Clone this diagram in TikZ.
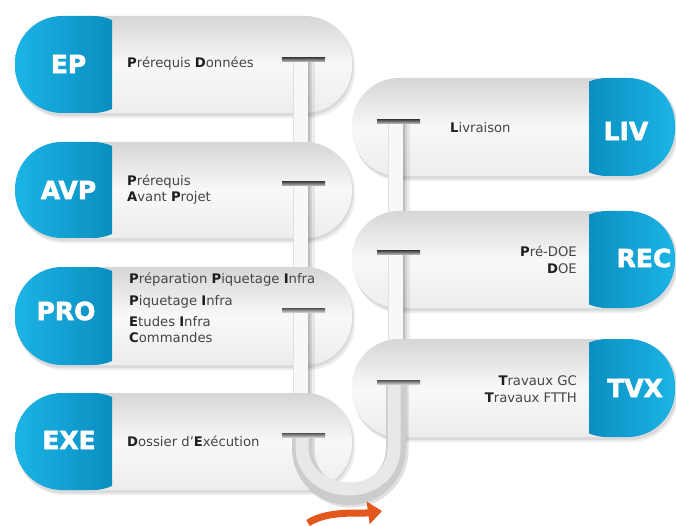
\documentclass[tikz,border=0pt]{standalone}
\usepackage{fontspec}
\setmainfont{DejaVu Sans}
\newfontfamily\capfont{DejaVu Sans Bold}[FakeBold=2.2]
\usetikzlibrary{arrows.meta}
\definecolor{bluelight}{HTML}{1CB4E6}
\definecolor{bluedark}{HTML}{0582B4}
\definecolor{pilltop}{HTML}{D6D6D6}
\definecolor{pillmid}{HTML}{F8F8F8}
\definecolor{pillbot}{HTML}{EDEDED}
\definecolor{txtgray}{HTML}{454545}
\definecolor{txtdark}{HTML}{1E1E1E}
\definecolor{arroworange}{HTML}{E4571C}
\newcommand{\B}[1]{{\bfseries\color{txtdark}#1}}
\newcommand{\LeftPill}[2]{%
  \fill[black,opacity=.07,rounded corners=47] (17,{#1+2}) rectangle (355,{#2+5});
  \fill[black,opacity=.08,rounded corners=47] (16,{#1+1}) rectangle (353,{#2+3});
  \shade[top color=pilltop,bottom color=pillbot,middle color=pillmid,rounded corners=47]
     (40,#1) rectangle (352,#2);
  \begin{scope}
    \clip (0,{#1-2}) rectangle (112,{#2+2});
    \shade[left color=bluelight,right color=bluedark,rounded corners=47]
      (15,#1) rectangle (140,#2);
  \end{scope}}
\newcommand{\RightPill}[2]{%
  \fill[black,opacity=.07,rounded corners=47] (354,{#1+2}) rectangle (678,{#2+5});
  \fill[black,opacity=.08,rounded corners=47] (353,{#1+1}) rectangle (677,{#2+3});
  \shade[top color=pilltop,bottom color=pillbot,middle color=pillmid,rounded corners=47]
     (352,#1) rectangle (640,#2);
  \begin{scope}
    \clip (589,{#1-2}) rectangle (680,{#2+2});
    \shade[left color=bluedark,right color=bluelight,rounded corners=47]
      (560,#1) rectangle (675,#2);
  \end{scope}}
% pipe segment: center x, top y, bottom y
\newcommand{\PipeSeg}[3]{%
  \fill[pillmid] ({#1-8},#2) rectangle ({#1+7},#3);
  \draw[black!12,line width=.6] ({#1-8},#2) -- ({#1-8},#3);
  \fill[black,opacity=.25] ({#1+7},#2) rectangle ({#1+9},#3);
  \fill[black,opacity=.15] ({#1+9},#2) rectangle ({#1+11},#3);
  \fill[black,opacity=.07] ({#1+11},#2) rectangle ({#1+14},#3);}
% T bar: center x, y
\newcommand{\TBar}[2]{%
  \shade[top color=black!68,bottom color=black!22] ({#1-20},{#2-2}) rectangle ({#1+23},{#2+2});}
\tikzset{
  capbox/.style={font=\fontsize{25}{25}\capfont, text=white, inner sep=0},
  bodytext/.style={font=\fontsize{13.2}{16}\selectfont, text=txtgray, inner sep=0, align=left},
  bodytextr/.style={font=\fontsize{13.2}{16.5}\selectfont, text=txtgray, inner sep=0, align=right}
}
\begin{document}
\begin{tikzpicture}[x=1pt,y=-1pt]
\useasboundingbox (0,0) rectangle (676,526);
\fill[white] (0,0) rectangle (676,526);

% left column with pipe segments
\LeftPill{16}{113}
\PipeSeg{301}{60}{150}
\LeftPill{142}{238}
\PipeSeg{301}{184}{275}
\LeftPill{267}{365}
\PipeSeg{301}{310}{400}
\LeftPill{393}{490}

% right column
\RightPill{78}{176}
\PipeSeg{396}{122}{220}
\RightPill{211}{308}
\PipeSeg{396}{253}{345}
\RightPill{339}{437}

% U pipe
\draw[black,opacity=.12,line width=21,xshift=2,yshift=-2]
  (302,435) -- (302,448) .. controls (302,473.7) and (322.6,495) .. (349,495)
  .. controls (375.4,495) and (396,473.7) .. (396,448) -- (396,382);
\draw[black!20,line width=20]
  (302,435) -- (302,448) .. controls (302,473.7) and (322.6,495) .. (349,495)
  .. controls (375.4,495) and (396,473.7) .. (396,448) -- (396,382);
\draw[black!9,line width=13]
  (302,435) -- (302,448) .. controls (302,471) and (322.6,489) .. (349,489)
  .. controls (375.4,489) and (394,471) .. (394,448) -- (394,382);

% T bars
\TBar{302}{60}
\TBar{302}{184}
\TBar{302}{310}
\TBar{302}{435}
\TBar{397}{122}
\TBar{397}{253}
\TBar{397}{382}

% orange arrow
\coordinate (arrS) at (308,523);
\coordinate (arrE) at (382,511);
\draw[arroworange,line width=7,-{Triangle[width=22pt,length=14pt]}]
  (arrS) .. controls (328,510) and (360,514) .. (arrE);

% caps
\node[capbox] (ep)  at (68.5,64)  {EP};
\node[capbox] (avp) at (68.5,190) {AVP};
\node[capbox] (pro) at (66,311) {PRO};
\node[capbox] (exe) at (69,440) {EXE};
\node[capbox] (liv) at (626,131) {LIV};
\node[capbox] (rec) at (644,258) {REC};
\node[capbox] (tvx) at (635,388) {TVX};

% texts
\node[bodytext,anchor=west] (tep) at (127,64) {\B{P}rérequis \B{D}onnées};
\node[bodytext,anchor=west] (tavp) at (127,190) {\B{P}rérequis\\\B{A}vant \B{P}rojet};
\node[bodytext,anchor=west] (tpro1) at (129,280) {\B{P}réparation \B{P}iquetage \B{I}nfra};
\node[bodytext,anchor=west] (tpro2) at (129,302) {\B{P}iquetage \B{I}nfra};
\node[bodytext,anchor=west] (tpro3) at (129,329.5) {\B{E}tudes \B{I}nfra\\\B{C}ommandes};
\node[bodytext,anchor=west] (texe) at (127,441) {\B{D}ossier d’\B{E}xécution};
\node[bodytext,anchor=west] (tliv) at (450,128) {\B{L}ivraison};
\node[bodytextr,anchor=east] (trec) at (577,260) {\B{P}ré-DOE\\\B{D}OE};
\node[bodytextr,anchor=east] (ttvx) at (577,389) {\B{T}ravaux GC\\\B{T}ravaux FTTH};
\end{tikzpicture}
\end{document}
